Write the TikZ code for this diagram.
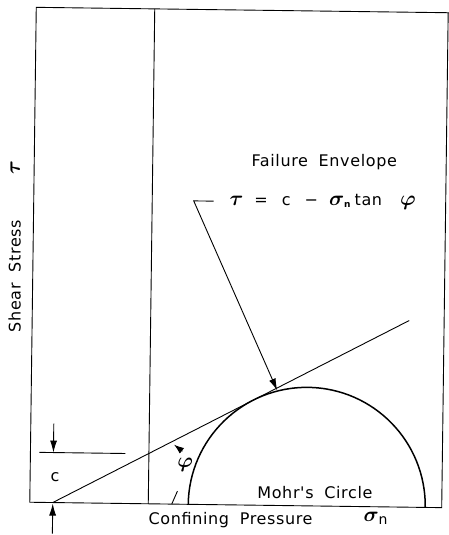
\RequirePackage{fix-cm}
\documentclass[tikz,border=0pt]{standalone}
\usepackage{fontspec}
\setmainfont{DejaVu Sans}
\newfontfamily\lbl[LetterSpace=4]{DejaVu Sans}
\usetikzlibrary{arrows.meta}
\newcommand{\gk}[1]{{\fontsize{21}{21}\selectfont\boldmath$#1$}}
\begin{document}
\begin{tikzpicture}[x=1pt,y=-1pt, line width=0.9pt,
  lab/.style={font=\lbl\fontsize{16}{18}\selectfont, inner sep=0pt},
  tip/.style={-{Latex[length=12pt,width=7pt]}},
  thick line/.style={line width=1.5pt}]
\useasboundingbox (0,0) rectangle (449,535);
\begin{scope}[rotate around={-0.75:(239,257)}]
  % frame
  \coordinate (TL) at (33,10);
  \coordinate (TR) at (455,10);
  \coordinate (BL) at (33,505);
  \coordinate (BR) at (445,505);
  \coordinate (RT) at (445,10);
  \draw (TR) -- (TL) -- (BL) -- (BR) -- (RT);
  % inner vertical
  \coordinate (V0) at (151.5,10);
  \coordinate (V1) at (151.5,505);
  \draw (V0) -- (V1);
  % failure envelope
  \coordinate (O) at (56,505);
  \draw (O) -- ++(-27.8:400.2) coordinate (E);
  % Mohr circle
  \coordinate (C0) at (191.5,505);
  \draw[thick line] (C0) arc[start angle=180, end angle=360, radius=118.5];
  % leader
  \coordinate (L1) at (213,201.5);
  \coordinate (L0) at (193,201.5);
  \coordinate (T) at (279,390);
  \draw[tip] (L1) -- (L0) -- (T);
  % c markers
  \coordinate (H0) at (42,455);
  \coordinate (H1) at (128,455);
  \draw (H0) -- (H1);
  \coordinate (A0) at (56,426);
  \coordinate (A1) at (56,455);
  \draw[tip] (A0) -- (A1);
  \coordinate (B0) at (56,536);
  \coordinate (B1) at (56,506);
  \draw[tip] (B0) -- (B1);
  % phi angle
  \coordinate (P0) at (175,505);
  \coordinate (P1) at (180.5,492);
  \draw (P0) -- (P1);
  \coordinate (Q0) at (185,452);
  \coordinate (Q1) at (176.5,445.5);
  \draw[-{Latex[length=10pt,width=7pt]}] (Q0) -- (Q1);
  \node[inner sep=0pt] (phi) at (188,466) {\gk{\varphi}};
  % texts
  \node[lab] (fe) at (323,161) {Failure\hspace{5pt} Envelope};
  \node[lab] (eq) at (322,201) {\gk{\tau}\hspace{11pt}=\hspace{14pt}c\hspace{14pt}−\hspace{11pt}\gk{\sigma}\raisebox{-2pt}{\fontsize{9}{9}\selectfont\bfseries n}\hspace{4pt}tan\hspace{18pt}\gk{\varphi}};
  \node[lab, rotate=90] (ss) at (15,279) {Shear\hspace{5pt} Stress};
  \node[inner sep=0pt, rotate=90] (tau) at (14,171) {\gk{\tau}};
  \node[lab] (c) at (58,480) {c};
  \node[lab] (mc) at (318,492) {Mohr's\hspace{5pt} Circle};
  \node[lab] (cp) at (234,520) {Confining\hspace{5pt} Pressure};
  \node[inner sep=0pt] (sn) at (379,517) {\gk{\sigma}\raisebox{-3pt}{\lbl\fontsize{14}{14}\selectfont n}};
\end{scope}
\end{tikzpicture}
\end{document}
